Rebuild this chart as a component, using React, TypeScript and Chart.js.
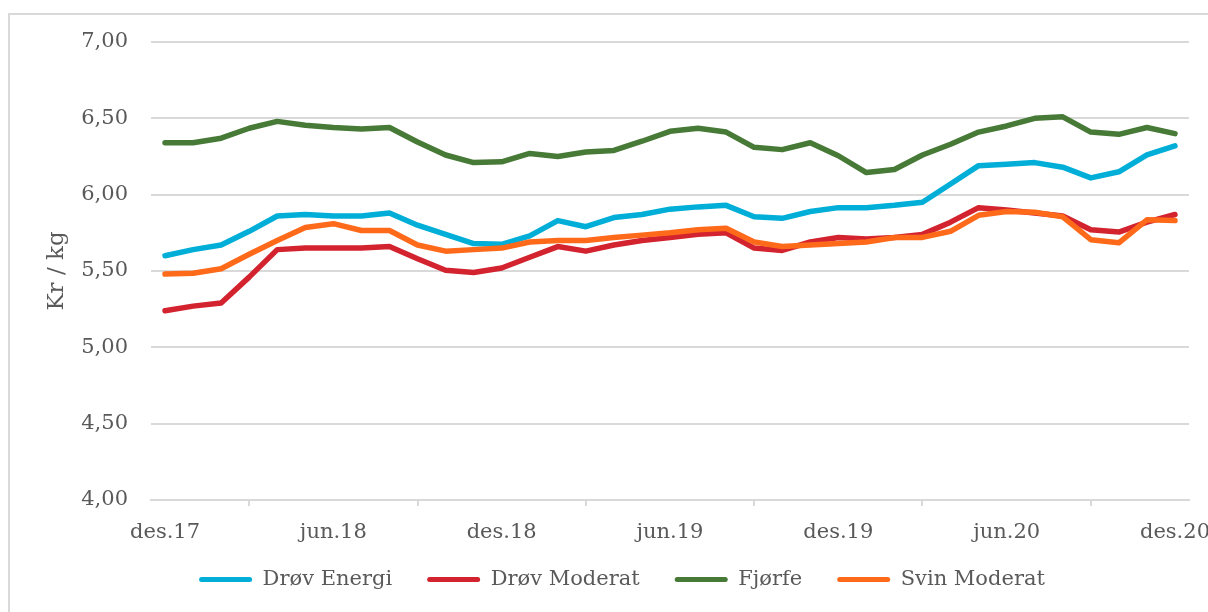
import React, { useEffect, useRef } from 'react';
import Chart from 'chart.js/auto';

const LABELS = [
  'des.17', 'jan.18', 'feb.18', 'mar.18', 'apr.18', 'mai.18', 'jun.18', 'jul.18', 'aug.18', 'sep.18', 'okt.18', 'nov.18',
  'des.18', 'jan.19', 'feb.19', 'mar.19', 'apr.19', 'mai.19', 'jun.19', 'jul.19', 'aug.19', 'sep.19', 'okt.19', 'nov.19',
  'des.19', 'jan.20', 'feb.20', 'mar.20', 'apr.20', 'mai.20', 'jun.20', 'jul.20', 'aug.20', 'sep.20', 'okt.20', 'nov.20',
  'des.20',
];
const SHOWN_TICKS = ['des.17', 'jun.18', 'des.18', 'jun.19', 'des.19', 'jun.20', 'des.20'];

const DROV_ENERGI = [
  5.60, 5.64, 5.67, 5.76, 5.86, 5.87, 5.86, 5.86, 5.88, 5.80, 5.74, 5.68,
  5.675, 5.73, 5.83, 5.79, 5.85, 5.87, 5.905, 5.92, 5.93, 5.855, 5.845, 5.89,
  5.915, 5.915, 5.93, 5.95, 6.07, 6.19, 6.20, 6.21, 6.18, 6.11, 6.15, 6.26,
  6.32,
];
const DROV_MODERAT = [
  5.24, 5.27, 5.29, 5.46, 5.64, 5.65, 5.65, 5.65, 5.66, 5.58, 5.505, 5.49,
  5.52, 5.59, 5.66, 5.63, 5.67, 5.70, 5.72, 5.74, 5.75, 5.65, 5.635, 5.69,
  5.72, 5.71, 5.72, 5.74, 5.82, 5.915, 5.90, 5.88, 5.86, 5.77, 5.755, 5.82,
  5.87,
];
const FJORFE = [
  6.34, 6.34, 6.37, 6.435, 6.48, 6.455, 6.44, 6.43, 6.44, 6.345, 6.26, 6.21,
  6.215, 6.27, 6.25, 6.28, 6.29, 6.35, 6.415, 6.435, 6.41, 6.31, 6.295, 6.34,
  6.255, 6.145, 6.165, 6.26, 6.33, 6.41, 6.45, 6.50, 6.51, 6.41, 6.395, 6.44,
  6.40,
];
const SVIN_MODERAT = [
  5.48, 5.485, 5.515, 5.61, 5.70, 5.785, 5.81, 5.765, 5.765, 5.67, 5.63, 5.64,
  5.65, 5.69, 5.70, 5.70, 5.72, 5.735, 5.75, 5.77, 5.78, 5.69, 5.66, 5.67,
  5.68, 5.69, 5.72, 5.72, 5.76, 5.865, 5.89, 5.885, 5.855, 5.705, 5.685, 5.835,
  5.83,
];

const SERIES_NAMES = ['Drøv Energi', 'Drøv Moderat', 'Fjørfe', 'Svin Moderat'];
const SERIES_COLORS = ['#00AED7', '#D3232F', '#477A36', '#FF6A1A'];
const SERIES_DATA = [DROV_ENERGI, DROV_MODERAT, FJORFE, SVIN_MODERAT];

const FONT = "'DejaVu Serif', 'Liberation Serif', serif";
const TEXT = '#595959';
const GRID = '#d9d9d9';

// Let the x-axis labels draw below the (compact) axis box without being clipped.
const extendXLabelArea = {
  id: 'extendXLabelArea',
  afterLayout(chart: any) {
    const x = chart.scales.x;
    if (x) x.bottom = x.top + 70;
  },
};

export default function App() {
  const ref = useRef<HTMLCanvasElement>(null);

  useEffect(() => {
    const canvas = ref.current;
    if (!canvas) return;
    const chart = new Chart(canvas, {
      type: 'line',
      data: {
        labels: LABELS,
        datasets: SERIES_NAMES.map((name, i) => ({
          label: name,
          data: SERIES_DATA[i],
          borderColor: SERIES_COLORS[i],
          backgroundColor: SERIES_COLORS[i],
          borderWidth: 5.5,
          pointRadius: 0,
          pointHoverRadius: 0,
          tension: 0,
          fill: false,
          borderCapStyle: 'round',
          borderJoinStyle: 'round',
          order: SERIES_NAMES.length - 1 - i,
        })),
      },
      plugins: [extendXLabelArea],
      options: {
        responsive: false,
        animation: false,
        devicePixelRatio: 1,
        layout: { padding: { left: 45, right: 81, top: 27, bottom: 12 } },
        scales: {
          x: {
            type: 'category',
            offset: true,
            grid: {
              drawOnChartArea: false,
              drawTicks: true,
              tickLength: 6,
              color: GRID,
              lineWidth: 2,
              offset: true,
            },
            border: { display: true, color: GRID, width: 2 },
            ticks: {
              autoSkip: false,
              maxRotation: 0,
              minRotation: 0,
              padding: 14,
              color: TEXT,
              font: { family: FONT, size: 21 },
              callback: (_v: any, idx: number) =>
                SHOWN_TICKS.includes(LABELS[idx]) ? LABELS[idx] : null,
            },
            afterFit: (s: any) => {
              s.height = 34;
            },
          },
          y: {
            min: 4,
            max: 7,
            grid: { color: GRID, lineWidth: 2, drawTicks: false },
            border: { display: false },
            ticks: {
              stepSize: 0.5,
              padding: 23,
              color: TEXT,
              font: { family: FONT, size: 21 },
              callback: (v: any) => Number(v).toFixed(2).replace('.', ','),
            },
            title: {
              display: true,
              text: 'Kr / kg',
              color: TEXT,
              font: { family: FONT, size: 23 },
              padding: { top: -12, bottom: 0 },
            },
            afterFit: (s: any) => {
              s.width = 96;
              s.paddingTop = 0;
              s.paddingBottom = 0;
            },
          },
        },
        plugins: {
          tooltip: { enabled: false },
          legend: {
            position: 'bottom',
            labels: {
              boxWidth: 53,
              boxHeight: 5,
              padding: 35,
              color: TEXT,
              font: { family: FONT, size: 21 },
              useBorderRadius: true,
              borderRadius: 2.5,
              generateLabels: (c: any) =>
                (Chart as any).defaults.plugins.legend.labels
                  .generateLabels(c)
                  .map((l: any) => ({ ...l, lineWidth: 0, fillStyle: l.strokeStyle })),
              sort: (a: any, b: any) => a.datasetIndex - b.datasetIndex,
            },
          },
        },
      },
    } as any);
    return () => chart.destroy();
  }, []);

  return (
    <div
      style={{
        position: 'absolute',
        left: 8,
        top: 13,
        width: 1198,
        height: 597,
        borderTop: '2px solid #d9d9d9',
        borderLeft: '2px solid #d9d9d9',
        overflow: 'hidden',
        background: '#fff',
      }}
    >
      <canvas
        ref={ref}
        width={1260}
        height={597}
        style={{ display: 'block', width: 1260, height: 597 }}
      />
    </div>
  );
}
